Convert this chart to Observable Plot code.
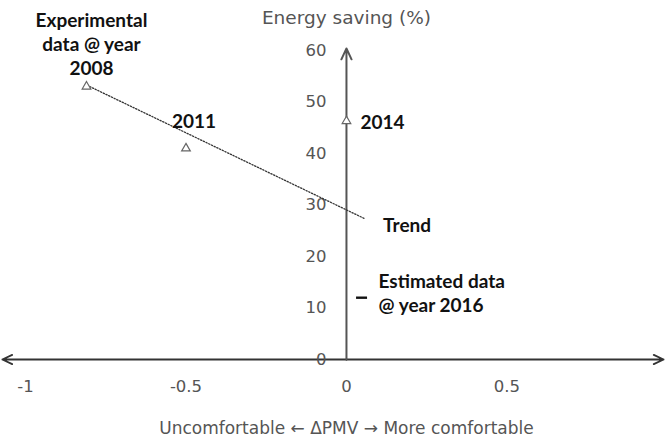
<!DOCTYPE html>
<html>
<head>
<meta charset="utf-8">
<script src="https://cdn.jsdelivr.net/npm/d3@7"></script>
<script src="https://cdn.jsdelivr.net/npm/@observablehq/plot@0.6"></script>
<style>
  html, body { margin: 0; padding: 0; background: #fff; }
  svg { display: block; }
</style>
</head>
<body>
<div id="chart"></div>
<script>
// Experimental data points
const expYears = ["Experimental\ndata @ year\n2008", "2011", "2014"];
const expPMV = [-0.81, -0.5, 0];
const expSaving = [53, 41, 46.3];

// Estimated data point
const estLabel = ["Estimated data\n@ year 2016"];
const estPMV = [0.047];
const estSaving = [12];

// Trend line end points
const trendPMV = [-0.8, 0.055];
const trendSaving = [53, 27.4];
const trendLabel = ["Trend"];

// Ticks
const xTicks = [-1, -0.5, 0, 0.5];
const yTicks = [0, 10, 20, 30, 40, 50, 60];

// Axis extents (data units)
const xAxisEnds = [-1.072, 0.988];
const yAxisTop = [60.4];

const yTitle = ["Energy saving (%)"];
const xTitle = ["Uncomfortable \u2190 \u0394PMV \u2192 More comfortable"];

const expData = expYears.map((l, i) => ({label: l, x: expPMV[i], y: expSaving[i]}));
const estData = estLabel.map((l, i) => ({label: l, x: estPMV[i], y: estSaving[i]}));
const trendData = trendPMV.map((x, i) => ({x, y: trendSaving[i]}));

const axisColor = "#333";
const tickColor = "#555";
const sans = "'DejaVu Sans', sans-serif";
const bold = "Lato, 'Open Sans', sans-serif";

// horizontal dash symbol
const dashSymbol = {
  draw(ctx, size) {
    const r = Math.sqrt(size / Math.PI);
    ctx.moveTo(-r, 0);
    ctx.lineTo(r, 0);
  }
};

const plot = Plot.plot({
  width: 665,
  height: 439,
  marginLeft: 25,
  marginRight: 0,
  marginTop: 50,
  marginBottom: 80,
  x: {type: "linear", domain: [-1, 0.994], axis: null},
  y: {type: "linear", domain: [0, 60], axis: null},
  style: {fontFamily: sans, background: "#fff"},
  marks: [
    // horizontal axis (double arrow)
    Plot.arrow(xAxisEnds, {x1: 0, y1: 0, x2: d => d, y2: 0, stroke: axisColor, strokeWidth: 1.8, headLength: 9, headAngle: 50}),
    // vertical axis
    Plot.arrow(yAxisTop, {x1: 0, y1: 0, x2: 0, y2: d => d, stroke: "#555", strokeWidth: 2, headLength: 9, headAngle: 50}),
    // tick labels
    Plot.text(yTicks, {x: 0, y: d => d, text: d => String(d), dx: -20, textAnchor: "end", fontSize: 16.5, fill: tickColor}),
    Plot.text(xTicks, {x: d => d, y: 0, text: d => String(d), dy: 27, fontSize: 16.5, fill: tickColor}),
    // axis titles
    Plot.text(yTitle, {x: 0, y: 60, text: d => d, dy: -32, fontSize: 18.5, fill: tickColor}),
    Plot.text(xTitle, {x: 0, y: 0, text: d => d, dy: 69, fontSize: 17, fill: tickColor}),
    // trend line
    Plot.line(trendData, {x: "x", y: "y", stroke: "#333", strokeWidth: 1.3, strokeDasharray: "1.3,1.7"}),
    // experimental points
    Plot.dot(expData, {x: "x", y: "y", symbol: "triangle", r: 3.2, stroke: "#666", strokeWidth: 1.2, fill: "white"}),
    // estimated point
    Plot.dot(estData, {x: "x", y: "y", symbol: dashSymbol, r: 5.5, stroke: "#111", strokeWidth: 2.4, fill: "none"}),
    // labels
    Plot.text(expData.slice(0, 1), {x: "x", y: "y", text: "label", dx: 5, dy: -12, lineAnchor: "bottom", lineHeight: 1.26, fontSize: 19, fontWeight: "bold", fontFamily: bold, fill: "#111"}),
    Plot.text(expData.slice(1, 2), {x: "x", y: "y", text: "label", dx: 8, dy: -26, fontSize: 19, fontWeight: "bold", fontFamily: bold, fill: "#111"}),
    Plot.text(expData.slice(2, 3), {x: "x", y: "y", text: "label", dx: 14, dy: 2, textAnchor: "start", fontSize: 19, fontWeight: "bold", fontFamily: bold, fill: "#111"}),
    Plot.text(trendData.slice(1), {x: "x", y: "y", text: () => trendLabel[0], dx: 19, dy: 8, textAnchor: "start", fontSize: 19, fontWeight: "bold", fontFamily: bold, fill: "#111"}),
    Plot.text(estData, {x: "x", y: "y", text: "label", dx: 17, dy: -5, textAnchor: "start", lineHeight: 1.26, fontSize: 19, fontWeight: "bold", fontFamily: bold, fill: "#111"})
  ]
});
document.getElementById("chart").appendChild(plot);
</script>
</body>
</html>
